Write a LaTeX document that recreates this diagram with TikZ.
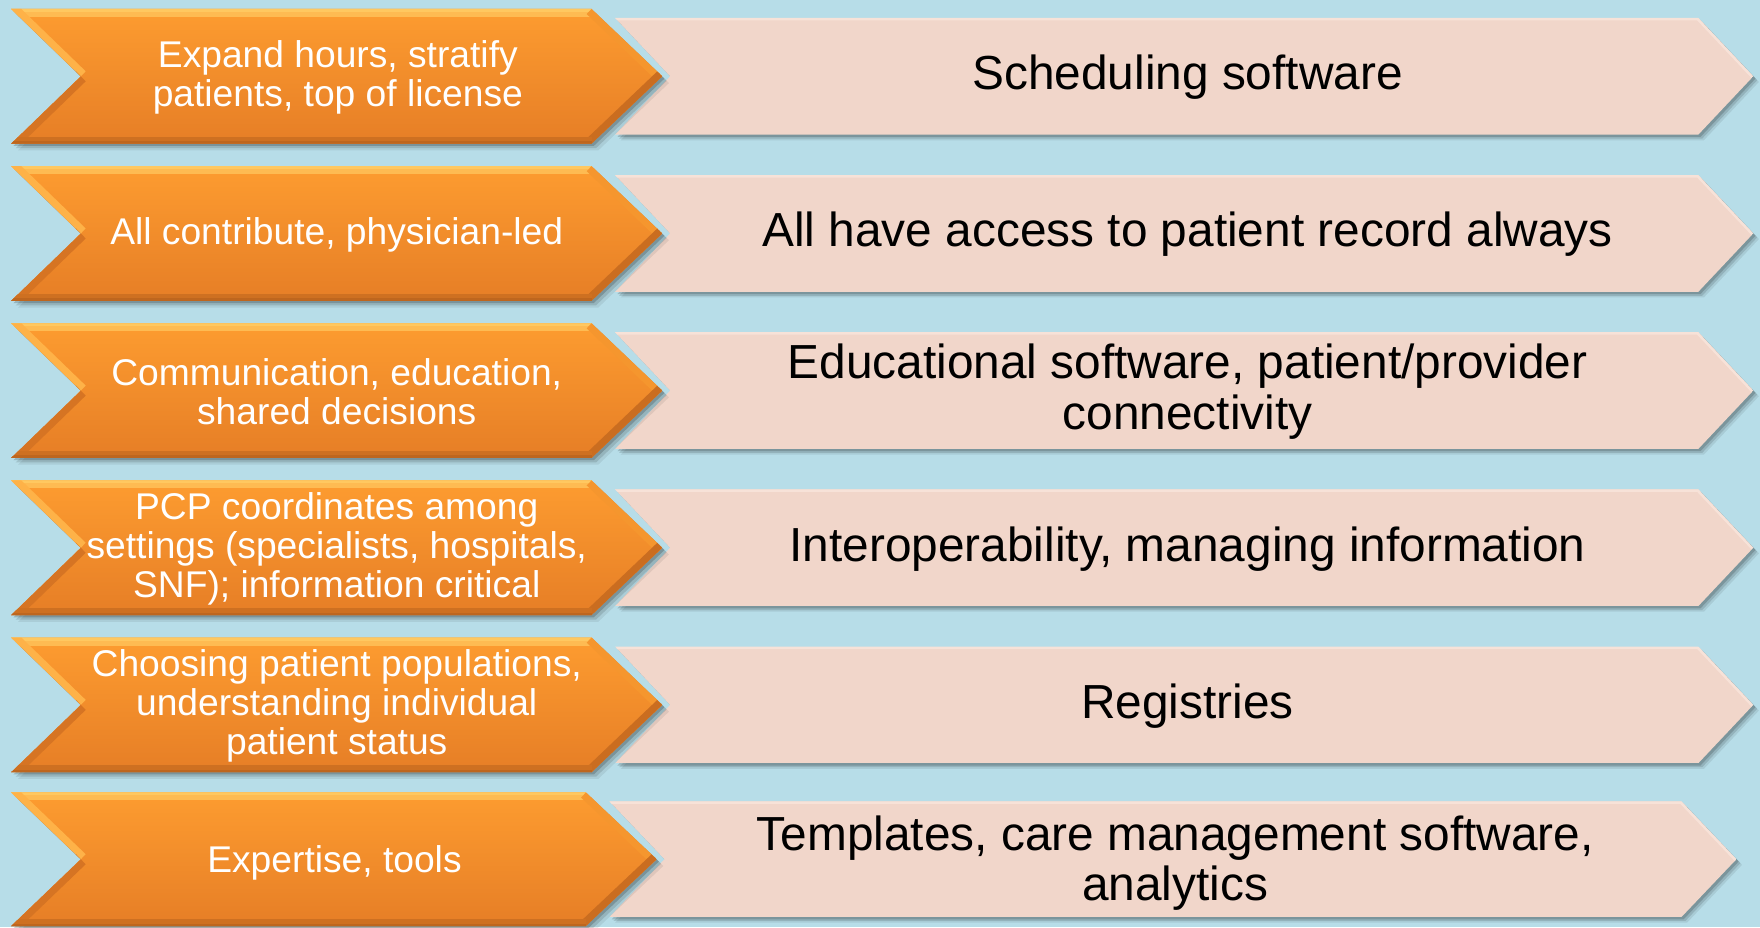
\documentclass[tikz,border=0pt]{standalone}
\usepackage{fontspec}
\setmainfont{Liberation Sans}
\begin{document}
\definecolor{bgblue}{RGB}{183,221,232}
\definecolor{pinkfill}{RGB}{241,214,202}
\definecolor{pinkedge}{RGB}{247,226,216}
\definecolor{orangetop}{RGB}{253,156,48}
\definecolor{orangebot}{RGB}{230,126,38}
\definecolor{orangelight}{RGB}{255,200,96}
\definecolor{orangedark}{RGB}{190,102,30}
\definecolor{orangemid}{RGB}{245,150,46}
\begin{tikzpicture}[x=0.5612pt,y=-0.5612pt,
  otext/.style={text=white,align=center,inner sep=0pt,
    font=\fontsize{18.6}{19.6}\selectfont},
  ptext/.style={text=black,align=center,inner sep=0pt,
    font=\fontsize{23.9}{25.3}\selectfont},
  shadowfill/.style={fill=black,fill opacity=#1},
]
\useasboundingbox (0,0) rectangle (1568,826);
\fill[bgblue] (0,0) rectangle (1568,826);

% rows: top / height / right-end shift
\foreach \t/\h/\sh in {8/120/0, 148/120/0, 288/120/0, 428/120/0, 568/120/0, 706/119/-5}{
  \pgfmathsetmacro\m{\t+\h/2}
  \pgfmathsetmacro\b{\t+\h}
  \pgfmathsetmacro\pt{\t+8}
  \pgfmathsetmacro\pb{\b-8}
  \pgfmathsetmacro\osh{527+\sh}
  \pgfmathsetmacro\otp{590+\sh}
  \pgfmathsetmacro\psh{1513+3*\sh}
  \pgfmathsetmacro\ptp{1562+3*\sh}
  \pgfmathsetmacro\pl{548+\sh}
  \pgfmathsetmacro\pn{597+\sh}
  % pink arrow: soft shadow, body, highlight
  \foreach \d/\o in {5/0.08,3.5/0.12,2/0.16}{
    \fill[shadowfill=\o,shift={(\d,\d)}]
      (\pl,\pt) -- (\psh,\pt) -- (\ptp,\m) -- (\psh,\pb) -- (\pl,\pb) -- (\pn,\m) -- cycle;
  }
  \begin{scope}
    \clip (\pl,\pt) -- (\psh,\pt) -- (\ptp,\m) -- (\psh,\pb) -- (\pl,\pb) -- (\pn,\m) -- cycle;
    \fill[pinkfill] (\pl,\pt) rectangle (\ptp,\pb);
    \draw[pinkedge,line width=2.5pt] (\pl,\pt) -- (\psh,\pt) -- (\ptp,\m);
  \end{scope}
  % orange chevron: soft shadow, shaded body, bevelled edges
  \foreach \d/\o in {6/0.07,4/0.12,2/0.18}{
    \fill[shadowfill=\o,shift={(\d,\d)}]
      (10,\t) -- (\osh,\t) -- (\otp,\m) -- (\osh,\b) -- (10,\b) -- (72,\m) -- cycle;
  }
  \begin{scope}
    \clip (10,\t) -- (\osh,\t) -- (\otp,\m) -- (\osh,\b) -- (10,\b) -- (72,\m) -- cycle;
    \shade[top color=orangetop,bottom color=orangebot] (0,\t) rectangle (\otp,\b);
    \draw[orangelight!70!orangetop,line width=8pt] (10,\t) -- (\osh,\t);
    \draw[orangelight,line width=3pt] (10,\t) -- (\osh,\t);
    \draw[orangelight!50!orangetop,line width=7pt] (10,\t) -- (72,\m);
    \draw[orangedark!40!orangebot,line width=7pt] (72,\m) -- (10,\b);
    \draw[orangemid,line width=7pt] (\osh,\t) -- (\otp,\m);
    \draw[orangedark!70!orangebot,line width=7pt] (\otp,\m) -- (\osh,\b);
    \draw[orangedark!60!orangebot,line width=7pt] (10,\b) -- (\osh,\b);
    \draw[orangedark,line width=2.5pt] (10,\b) -- (\osh,\b);
  \end{scope}
}

% labels of the orange chevrons
\node[otext] (o1) at (301,69)  {Expand hours, stratify\\patients, top of license};
\node[otext] (o2) at (300,209) {All contribute, physician-led};
\node[otext] (o3) at (300,349) {Communication, education,\\shared decisions};
\node[otext] (o4) at (300,489) {PCP coordinates among\\settings (specialists, hospitals,\\SNF); information critical};
\node[otext] (o5) at (300,629) {Choosing patient populations,\\understanding individual\\patient status};
\node[otext] (o6) at (298,769) {Expertise, tools};

% labels of the pink arrows
\node[ptext] (p1) at (1058,69)  {Scheduling software};
\node[ptext] (p2) at (1058,209) {All have access to patient record always};
\node[ptext] (p3) at (1058,349) {Educational software, patient/provider\\connectivity};
\node[ptext] (p4) at (1058,489) {Interoperability, managing information};
\node[ptext] (p5) at (1058,629) {Registries};
\node[ptext] (p6) at (1047,769) {Templates, care management software,\\analytics};
\end{tikzpicture}
\end{document}
